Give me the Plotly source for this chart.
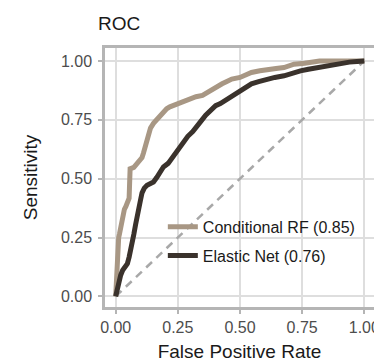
import plotly.graph_objects as go

# ROC data
fpr_rf = [0, 0.002, 0.004, 0.008, 0.012, 0.015, 0.022, 0.028, 0.035, 0.041, 0.048, 0.054, 0.056, 0.058,
          0.073, 0.085, 0.093, 0.106, 0.112, 0.119, 0.126, 0.133, 0.136, 0.14, 0.152, 0.165, 0.178, 0.19,
          0.205, 0.218, 0.235, 0.253, 0.275, 0.297, 0.323, 0.349, 0.365, 0.382, 0.405, 0.428, 0.447,
          0.467, 0.5, 0.525, 0.546, 0.58, 0.611, 0.645, 0.677, 0.7, 0.717, 0.76, 0.79, 0.82, 0.9, 1.0]
tpr_rf = [0, 0.05, 0.12, 0.2, 0.25, 0.264, 0.31, 0.347, 0.37, 0.382, 0.4, 0.417, 0.48, 0.542,
          0.548, 0.565, 0.576, 0.59, 0.61, 0.639, 0.66, 0.68, 0.7, 0.715, 0.735, 0.75, 0.77, 0.785,
          0.797, 0.805, 0.812, 0.819, 0.828, 0.84, 0.848, 0.854, 0.865, 0.875, 0.89, 0.903, 0.913,
          0.923, 0.93, 0.94, 0.951, 0.958, 0.965, 0.968, 0.972, 0.98, 0.986, 0.99, 0.995, 1.0, 1.0, 1.0]

fpr_en = [0, 0.005, 0.012, 0.02, 0.028, 0.04, 0.047, 0.054, 0.062, 0.067, 0.073, 0.08, 0.093, 0.1,
          0.106, 0.115, 0.126, 0.14, 0.152, 0.165, 0.178, 0.192, 0.211, 0.228, 0.244, 0.26, 0.277,
          0.29, 0.31, 0.323, 0.34, 0.362, 0.38, 0.402, 0.421, 0.441, 0.46, 0.48, 0.5, 0.52, 0.546,
          0.575, 0.611, 0.64, 0.677, 0.71, 0.743, 0.775, 0.808, 0.84, 0.874, 0.91, 0.94, 0.97, 1.0]
tpr_en = [0, 0.03, 0.055, 0.09, 0.111, 0.125, 0.139, 0.167, 0.2, 0.236, 0.264, 0.305, 0.361, 0.41,
          0.44, 0.46, 0.472, 0.48, 0.486, 0.505, 0.528, 0.55, 0.565, 0.59, 0.61, 0.635, 0.655,
          0.68, 0.7, 0.72, 0.74, 0.77, 0.79, 0.81, 0.819, 0.833, 0.847, 0.863, 0.875, 0.889, 0.903,
          0.912, 0.923, 0.93, 0.937, 0.95, 0.958, 0.965, 0.972, 0.978, 0.986, 0.993, 0.995, 0.998, 1.0]

ref_line = [0, 1]
series_names = ["Conditional RF (0.85)", "Elastic Net (0.76)"]
tick_vals = [0, 0.25, 0.5, 0.75, 1.0]
tick_text = ["0.00", "0.25", "0.50", "0.75", "1.00"]

FONT = "Liberation Sans, Arial, sans-serif"
TAN = "#a89784"
DARK = "#3a322c"

fig = go.Figure()
fig.add_trace(go.Scatter(x=ref_line, y=ref_line, mode="lines", showlegend=False,
                         line=dict(color="#a8a8a8", width=2.5, dash="8px,6px"), hoverinfo="skip"))
fig.add_trace(go.Scatter(x=fpr_rf, y=tpr_rf, mode="lines", name=series_names[0], legendgroup="rf",
                         line=dict(color=TAN, width=5)))
fig.add_trace(go.Scatter(x=fpr_en, y=tpr_en, mode="lines", name=series_names[1], legendgroup="en",
                         line=dict(color=DARK, width=5)))

axis_common = dict(
    tickvals=tick_vals, ticktext=tick_text,
    showgrid=True, gridcolor="#dedede", gridwidth=1.5,
    zeroline=False,
    showline=True, mirror=True, linecolor="#b5b5b5", linewidth=2.5,
    ticks="outside", ticklen=4, tickwidth=1.5, tickcolor="#b5b5b5",
    tickfont=dict(family=FONT, size=16, color="#4d4d4d"),
)

fig.update_layout(
    width=382, height=361,
    margin=dict(l=97, r=10, t=40, b=57),
    paper_bgcolor="white", plot_bgcolor="white",
    font=dict(family=FONT, color="#1a1a1a"),
    title=dict(text="ROC", x=90 / 382, xanchor="left", xref="container",
               y=1 - 15 / 361, yanchor="middle", yref="container",
               font=dict(family=FONT, size=19, color="#1a1a1a")),
    xaxis=dict(range=[-0.043, 1.039],
               title=dict(text="False Positive Rate", standoff=10,
                          font=dict(family=FONT, size=19, color="#1a1a1a")),
               **axis_common),
    yaxis=dict(range=[-0.045, 1.055], ticklabelstandoff=3,
               title=dict(text="Sensitivity", standoff=19,
                          font=dict(family=FONT, size=19, color="#1a1a1a")),
               **axis_common),
    legend=dict(x=0.215, y=0.375, xanchor="left", yanchor="top",
                bgcolor="rgba(0,0,0,0)", font=dict(family=FONT, size=16, color="#1a1a1a"),
                tracegroupgap=5),
    showlegend=True,
)

fig.write_html("out.html")
